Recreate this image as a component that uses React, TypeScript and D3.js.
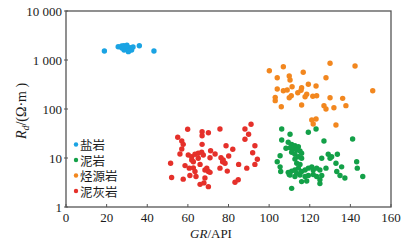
import React from "react";
import * as d3 from "d3";

const xTicks = [0, 20, 40, 60, 80, 100, 120, 140, 160];
const yTicks = [1, 10, 100, 1000, 10000];
const yTickLabels = ["1", "10", "100", "1 000", "10 000"];

const seriesNames = ["盐岩", "泥岩", "烃源岩", "泥灰岩"];
const seriesColors = ["#1aa3e3", "#13a048", "#f2871f", "#e5302a"];

const saltGR = [18.9, 25.7, 27.4, 29.0, 29.9, 30.7, 31.5, 32.3, 28.6, 36.1, 43.3, 27.5, 30.5, 31.0, 28.5, 30.0, 33.0];
const saltRd = [1530, 1870, 1930, 1870, 1650, 1480, 1780, 1600, 1600, 1960, 1530, 1750, 1700, 1550, 1950, 2000, 1850];

const mudGR = [106.2, 110.3, 119.3, 123.1, 127.0, 141.1, 106.2, 109.4, 111.1, 112.7, 114.4, 108.3, 110.3, 111.9, 113.6, 115.2, 116.0, 111.1, 112.7, 114.4, 116.0, 105.4, 104.0, 112.7, 113.6, 115.2, 105.4, 105.7, 109.4, 111.1, 112.7, 114.4, 116.0, 117.7, 119.3, 121.0, 121.7, 123.4, 125.0, 125.9, 128.0, 129.1, 130.0, 130.8, 133.6, 132.9, 135.7, 133.3, 134.9, 137.3, 143.1, 143.4, 146.1, 110.3, 112.7, 115.2, 117.7, 119.3, 121.7, 123.4, 125.0, 125.9, 116.0, 118.5, 125.0, 111.1, 109.9, 113.6];
const mudRd = [39.1, 30.5, 33.5, 39.1, 22.2, 24.4, 23.3, 20.9, 19.0, 17.8, 17.0, 15.8, 16.2, 15.3, 14.6, 13.9, 12.5, 13.1, 11.9, 10.6, 9.9, 11.1, 8.4, 9.5, 7.8, 7.4, 6.6, 5.3, 5.1, 5.4, 5.7, 6.2, 5.3, 5.7, 6.2, 6.6, 5.7, 6.2, 5.7, 9.9, 6.2, 11.9, 9.9, 10.6, 11.9, 7.8, 6.6, 5.3, 4.4, 3.9, 8.4, 6.2, 4.2, 4.5, 4.2, 4.5, 4.2, 4.4, 4.6, 4.2, 3.6, 4.4, 3.3, 3.4, 3.0, 2.4, 4.6, 4.9];

const srcGR = [100.1, 107.0, 130.0, 142.3, 116.8, 104.0, 109.9, 110.3, 128.0, 104.0, 107.0, 108.9, 111.3, 116.0, 115.7, 119.3, 123.1, 114.1, 118.5, 121.5, 123.4, 110.9, 109.9, 103.0, 103.0, 117.7, 130.0, 136.2, 151.0, 106.0, 116.0, 127.0, 128.0, 131.9, 137.8, 121.0, 123.1, 121.7, 132.9];
const srcRd = [605, 730, 857, 754, 561, 435, 471, 391, 435, 256, 236, 244, 285, 272, 241, 319, 295, 215, 200, 182, 187, 187, 170, 173, 148, 178, 170, 165, 236, 111, 121, 117, 100, 106, 117, 59.6, 62.5, 49.4, 47.1];

const marlGR = [59.9, 67.0, 67.0, 70.1, 75.8, 91.1, 88.1, 89.9, 88.1, 55.0, 57.0, 57.7, 67.0, 57.0, 56.1, 60.2, 61.9, 63.5, 65.1, 66.8, 67.6, 71.2, 73.4, 70.9, 76.3, 78.8, 82.1, 80.1, 93.0, 91.9, 94.2, 93.0, 51.5, 58.6, 60.7, 62.7, 66.0, 63.5, 68.4, 70.1, 69.3, 70.9, 75.8, 77.1, 78.3, 79.4, 85.0, 89.0, 52.0, 57.7, 61.0, 64.0, 68.4, 66.0, 67.9, 70.1, 83.2, 84.8, 61.9, 62.7, 65.1, 77.4];
const marlRd = [38.5, 34.4, 28.5, 32.8, 39.1, 48.7, 39.1, 30.5, 24.1, 26.5, 22.2, 19.0, 19.0, 15.3, 12.1, 11.5, 10.6, 11.9, 12.5, 13.1, 11.5, 14.1, 12.1, 10.1, 10.1, 17.8, 15.1, 11.0, 17.8, 12.8, 9.4, 7.4, 7.8, 7.0, 6.2, 6.3, 7.4, 5.3, 5.7, 5.3, 6.2, 5.1, 6.2, 8.4, 7.8, 5.4, 7.4, 6.2, 4.0, 3.7, 4.4, 4.2, 3.9, 2.9, 3.1, 2.6, 3.2, 3.6, 9.1, 8.4, 9.9, 9.1];

const W = 414;
const H = 247;
const M = { left: 66, right: 391, top: 11, bottom: 207 };

export default function App() {
  const x = d3.scaleLinear().domain([0, 160]).range([M.left, M.right]);
  const y = d3.scaleLog().domain([1, 10000]).range([M.bottom, M.top]);

  const series = [
    { gr: saltGR, rd: saltRd },
    { gr: mudGR, rd: mudRd },
    { gr: srcGR, rd: srcRd },
    { gr: marlGR, rd: marlRd },
  ];
  const order = [0, 2, 3, 1];
  const serif = "'Liberation Serif', 'DejaVu Serif', serif";
  const cjk = "'Noto Sans CJK SC', sans-serif";
  const axisColor = "#555";
  const legendY0 = 144.5;
  const legendStep = 15.5;

  return (
    <svg width={W} height={H} style={{ position: "absolute", left: 0, top: 0, background: "#fff" }}>
      {order.map((si) => (
        <g key={si} fill={seriesColors[si]}>
          {series[si].gr.map((g, i) => (
            <circle key={i} cx={x(g)} cy={y(series[si].rd[i])} r={2.7} />
          ))}
        </g>
      ))}
      <rect
        x={M.left}
        y={M.top}
        width={M.right - M.left}
        height={M.bottom - M.top}
        fill="none"
        stroke={axisColor}
        strokeWidth={1.3}
      />
      {xTicks.map((t) => (
        <g key={t}>
          <line x1={x(t)} x2={x(t)} y1={M.bottom} y2={M.bottom - 3} stroke={axisColor} strokeWidth={1} />
          <text x={x(t)} y={222} textAnchor="middle" fontFamily={serif} fontSize={13} fill="#1a1a1a">
            {t}
          </text>
        </g>
      ))}
      {yTicks.map((t, i) => (
        <g key={t}>
          <line x1={M.left - 2} x2={M.left + 2} y1={y(t)} y2={y(t)} stroke={axisColor} strokeWidth={1} />
          <text x={62} y={y(t) + 4.5} textAnchor="end" fontFamily={serif} fontSize={13} fill="#1a1a1a">
            {yTickLabels[i]}
          </text>
        </g>
      ))}
      <text x={211} y={238} textAnchor="middle" fontFamily={serif} fontSize={13} fill="#1a1a1a">
        <tspan fontStyle="italic">GR</tspan>
        <tspan>/API</tspan>
      </text>
      <text
        transform={`translate(26,111) rotate(-90)`}
        textAnchor="middle"
        fontFamily={serif}
        fontSize={14}
        fill="#1a1a1a"
      >
        <tspan fontStyle="italic">R</tspan>
        <tspan fontStyle="italic" fontSize={10} dy={3}>d</tspan>
        <tspan dy={-3}>/(Ω·m )</tspan>
      </text>
      {seriesNames.map((n, i) => (
        <g key={n}>
          <circle cx={76} cy={legendY0 + i * legendStep} r={2.2} fill={seriesColors[i]} />
          <text
            x={80}
            y={legendY0 + i * legendStep}
            dominantBaseline="central"
            fontFamily={cjk}
            fontSize={12.5}
            fill="#1a1a1a"
          >
            {n}
          </text>
        </g>
      ))}
    </svg>
  );
}
